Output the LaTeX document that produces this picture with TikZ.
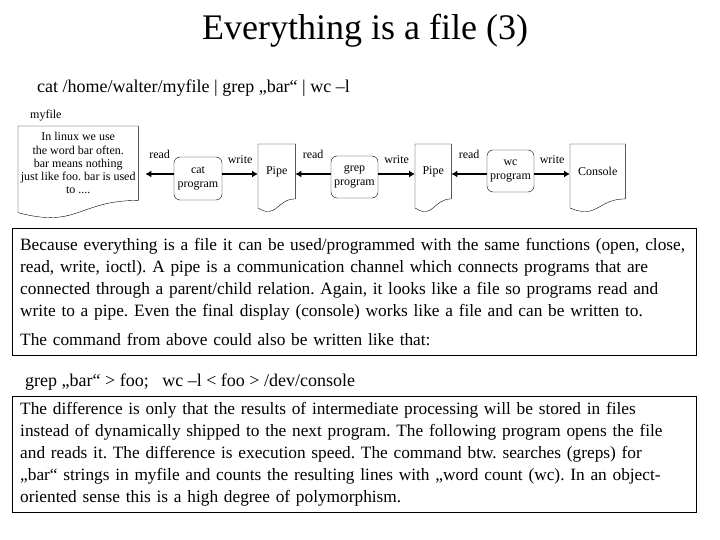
\documentclass[tikz,border=0pt]{standalone}
\usepackage{fontspec}
\setmainfont{Liberation Serif}
\usetikzlibrary{positioning,calc,arrows.meta}
\frenchspacing

\begin{document}
\begin{tikzpicture}[
x=1pt, y=-1pt,
docfile/.style={
  anchor=north west,
  inner sep=1pt,
  align=center,
  font=\fontsize{12}{13.2}\selectfont
  },
prog/.style={
  draw,
  rounded corners=6pt,
  minimum width=47pt,
  minimum height=42pt,
  inner sep=1pt,
  align=center,
  font=\fontsize{12}{14}\selectfont
  },
lbl/.style={
  inner sep=1pt,
  font=\fontsize{12}{14}\selectfont
  },
flow/.style={
  -{Latex[length=6pt,width=7pt]},
  line width=2.5pt
  },
txtbox/.style={
  draw,
  anchor=north west,
  text width=680pt,
  inner xsep=2pt,
  align=left,
  font=\fontsize{17.3}{22}\selectfont
  }
]
\useasboundingbox (0,0) rectangle (720,540);

\node[font=\fontsize{36}{40}\selectfont] (title) at (365,31) {Everything is a file (3)};
\node[anchor=west, inner sep=0pt, font=\fontsize{18}{22}\selectfont] (cmd) at (37,88)
  {cat /home/walter/myfile | grep „bar“ | wc –l};

% files and pipes
\node[docfile, minimum width=120pt, minimum height=74pt] (myfile) at (18,126)
  {In linux we use\\the word bar often.\\bar means nothing\\just like foo. bar is used\\to ....};
\node[lbl, above right=4pt and 11pt of myfile.north west] (myfilelbl) {myfile};
\node[docfile, minimum width=37pt, minimum height=54.5pt] (pipeA) at (258,144) {Pipe};
\node[docfile, minimum width=36pt, minimum height=54.5pt] (pipeB) at (415,144) {Pipe};
\node[docfile, minimum width=55pt, minimum height=54.5pt] (console) at (570,144) {Console};
\foreach \n in {myfile,pipeA,pipeB,console}
  \draw (\n.south east) -- (\n.north east) -- (\n.north west)
    -- ($(\n.south west)!-0.165!(\n.north west)$)
    .. controls ($(\n.south)!-0.38!(\n.north)$) and (\n.south) .. (\n.south east);

% programs
\node[prog, minimum width=48pt, minimum height=43pt] (cat) at (198,178.5) {cat\\program};
\node[prog] (grep) at (354.5,177) {grep\\program};
\node[prog] (wc) at (510.5,171) {wc\\program};

\coordinate (flowline) at (0,174);
\path[flow]
  (cat.west |- flowline) edge[shorten >=7pt] node[lbl, above=13pt, pos=0.4] {read} (myfile.east |- flowline)
  (cat.east |- flowline) edge node[lbl, above=8pt] {write} (pipeA.west |- flowline)
  (grep.west |- flowline) edge node[lbl, above=13pt] {read} (pipeA.east |- flowline)
  (grep.east |- flowline) edge node[lbl, above=8pt] {write} (pipeB.west |- flowline)
  (wc.west |- flowline) edge node[lbl, above=13pt] {read} (pipeB.east |- flowline)
  (wc.east |- flowline) edge node[lbl, above=8pt] {write} (console.west |- flowline);

% explanation
\node[txtbox, minimum height=127pt] (why) at (12,228)
  {\leftskip=6pt
   Because everything is a file it can be used/programmed with the same functions (open, close,\\
   read, write, ioctl). A pipe is a communication channel which connects programs that are\\
   connected through a parent/child relation. Again, it looks like a file so programs read and\\
   write to a pipe. Even the final display (console) works like a file and can be written to.\\[7pt]
   The command from above could also be written like that:\par};
\node[anchor=west, inner sep=0pt, font=\fontsize{18}{22}\selectfont] (cmdB) at (25,382)
  {grep „bar“ > foo;\ \ \ wc –l < foo > /dev/console};
\node[txtbox, minimum height=116pt] (diff) at (12,396)
  {\leftskip=6pt
   The difference is only that the results of intermediate processing will be stored in files\\
   instead of dynamically shipped to the next program. The following program opens the file\\
   and reads it. The difference is execution speed. The command btw. searches (greps) for\\
   „bar“ strings in myfile and counts the resulting lines with „word count (wc). In an object-\\
   oriented sense this is a high degree of polymorphism.\par};
\end{tikzpicture}
\end{document}
